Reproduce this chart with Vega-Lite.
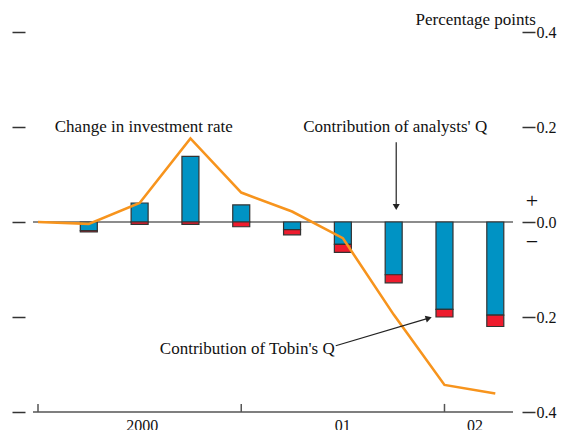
{
  "$schema": "https://vega.github.io/schema/vega-lite/v6.json",
  "width": 480,
  "height": 380,
  "autosize": {"type": "none"},
  "padding": {"left": 33, "top": 32, "right": 50, "bottom": 18},
  "background": "white",
  "config": {"view": {"stroke": null}, "font": "Liberation Serif"},
  "datasets": {
    "bars": [
      {"t": 1, "series": "Analysts' Q", "value": -0.018, "ord": 1},
      {"t": 1, "series": "Tobin's Q", "value": -0.003, "ord": 2},
      {"t": 2, "series": "Analysts' Q", "value": 0.04, "ord": 1},
      {"t": 2, "series": "Tobin's Q", "value": -0.005, "ord": 2},
      {"t": 3, "series": "Analysts' Q", "value": 0.138, "ord": 1},
      {"t": 3, "series": "Tobin's Q", "value": -0.005, "ord": 2},
      {"t": 4, "series": "Analysts' Q", "value": 0.036, "ord": 1},
      {"t": 4, "series": "Tobin's Q", "value": -0.01, "ord": 2},
      {"t": 5, "series": "Analysts' Q", "value": -0.016, "ord": 1},
      {"t": 5, "series": "Tobin's Q", "value": -0.011, "ord": 2},
      {"t": 6, "series": "Analysts' Q", "value": -0.047, "ord": 1},
      {"t": 6, "series": "Tobin's Q", "value": -0.017, "ord": 2},
      {"t": 7, "series": "Analysts' Q", "value": -0.111, "ord": 1},
      {"t": 7, "series": "Tobin's Q", "value": -0.017, "ord": 2},
      {"t": 8, "series": "Analysts' Q", "value": -0.184, "ord": 1},
      {"t": 8, "series": "Tobin's Q", "value": -0.016, "ord": 2},
      {"t": 9, "series": "Analysts' Q", "value": -0.196, "ord": 1},
      {"t": 9, "series": "Tobin's Q", "value": -0.024, "ord": 2}
    ],
    "line": [
      {"t": 0, "value": 0.0},
      {"t": 1, "value": -0.004},
      {"t": 2, "value": 0.04},
      {"t": 3, "value": 0.176},
      {"t": 4, "value": 0.062},
      {"t": 5, "value": 0.022},
      {"t": 6, "value": -0.034},
      {"t": 7, "value": -0.195},
      {"t": 8, "value": -0.343},
      {"t": 9, "value": -0.361}
    ]
  },
  "layer": [
    {
      "data": {"values": [{"v": 0}]},
      "mark": {"type": "rule", "color": "#666666", "strokeWidth": 1.5},
      "encoding": {
        "y": {"field": "v", "type": "quantitative",
              "scale": {"domain": [-0.4, 0.4], "nice": false, "zero": false},
              "axis": {"orient": "left", "values": [-0.4, -0.2, 0, 0.2, 0.4], "labels": false, "title": null,
                       "domain": false, "grid": false, "offset": 8, "tickSize": 13, "tickWidth": 1.5, "tickColor": "#333333"}}
      }
    },
    {
      "data": {"values": [{"v": -0.4}]},
      "mark": {"type": "rule", "color": "#555555", "strokeWidth": 1.5},
      "encoding": {
        "y": {"field": "v", "type": "quantitative", "scale": {"domain": [-0.4, 0.4], "nice": false, "zero": false}, "axis": null}
      }
    },
    {
      "data": {"values": [{"t": 0}, {"t": 4}, {"t": 8}]},
      "mark": {"type": "rule", "color": "#555555", "strokeWidth": 1.5},
      "encoding": {
        "x": {"field": "t", "type": "quantitative", "scale": {"domain": [0, 9.25], "nice": false, "zero": false}, "axis": null},
        "y": {"datum": -0.4, "type": "quantitative", "scale": {"domain": [-0.4, 0.4], "nice": false, "zero": false}, "axis": null},
        "y2": {"datum": -0.383}
      }
    },
    {
      "data": {"name": "bars"},
      "mark": {"type": "bar", "size": 17, "orient": "vertical", "stroke": "#333333", "strokeWidth": 1.2},
      "encoding": {
        "x": {"field": "t", "type": "quantitative",
              "scale": {"domain": [0, 9.25], "nice": false, "zero": false}, "axis": null},
        "y": {"field": "value", "type": "quantitative", "stack": "zero",
              "scale": {"domain": [-0.4, 0.4], "nice": false, "zero": false},
              "axis": {"orient": "right", "values": [-0.4, -0.2, 0, 0.2, 0.4], "title": null,
                       "labelExpr": "format(abs(datum.value), '.1f')",
                       "domain": false, "grid": false, "offset": 9, "tickSize": 13, "tickWidth": 1.5, "tickColor": "#333333",
                       "labelFont": "Liberation Serif", "labelFontSize": 16, "labelColor": "#111111", "labelPadding": 1}},
        "color": {"field": "series", "type": "nominal",
                  "scale": {"domain": ["Analysts' Q", "Tobin's Q"], "range": ["#0093C4", "#EE1C2E"]},
                  "legend": null},
        "order": {"field": "ord", "type": "quantitative"}
      }
    },
    {
      "data": {"name": "line"},
      "mark": {"type": "line", "color": "#F7941D", "strokeWidth": 2.6},
      "encoding": {
        "x": {"field": "t", "type": "quantitative", "scale": {"domain": [0, 9.25], "nice": false, "zero": false}, "axis": null},
        "y": {"field": "value", "type": "quantitative", "scale": {"domain": [-0.4, 0.4], "nice": false, "zero": false}, "axis": null}
      }
    },
    {
      "data": {"values": [
        {"x1": 7.05, "y1": 0.168, "x2": 7.05, "y2": 0.03},
        {"x1": 5.86, "y1": -0.2605, "x2": 7.69, "y2": -0.2025}
      ]},
      "mark": {"type": "rule", "color": "#222222", "strokeWidth": 1.2},
      "encoding": {
        "x": {"field": "x1", "type": "quantitative", "scale": {"domain": [0, 9.25], "nice": false, "zero": false}, "axis": null},
        "x2": {"field": "x2"},
        "y": {"field": "y1", "type": "quantitative", "scale": {"domain": [-0.4, 0.4], "nice": false, "zero": false}, "axis": null},
        "y2": {"field": "y2"}
      }
    },
    {
      "data": {"values": [{"x": 7.05, "y": 0.0315}]},
      "mark": {"type": "point", "shape": "triangle-down", "filled": true, "size": 50, "color": "#222222", "opacity": 1},
      "encoding": {
        "x": {"field": "x", "type": "quantitative", "scale": {"domain": [0, 9.25], "nice": false, "zero": false}, "axis": null},
        "y": {"field": "y", "type": "quantitative", "scale": {"domain": [-0.4, 0.4], "nice": false, "zero": false}, "axis": null}
      }
    },
    {
      "data": {"values": [{"x": 7.69, "y": -0.2025}]},
      "mark": {"type": "point", "shape": "triangle-up", "filled": true, "size": 50, "angle": 74, "color": "#222222", "opacity": 1},
      "encoding": {
        "x": {"field": "x", "type": "quantitative", "scale": {"domain": [0, 9.25], "nice": false, "zero": false}, "axis": null},
        "y": {"field": "y", "type": "quantitative", "scale": {"domain": [-0.4, 0.4], "nice": false, "zero": false}, "axis": null}
      }
    },
    {
      "data": {"values": [
        {"label": "Change in investment rate", "x": 0.33, "y": 0.2, "align": "left"},
        {"label": "Contribution of analysts' Q", "x": 7.03, "y": 0.2, "align": "center"}
      ]},
      "mark": {"type": "text", "font": "Liberation Serif", "fontSize": 17, "color": "#111111", "baseline": "middle", "align": {"expr": "datum.align"}},
      "encoding": {
        "x": {"field": "x", "type": "quantitative", "scale": {"domain": [0, 9.25], "nice": false, "zero": false}, "axis": null},
        "y": {"field": "y", "type": "quantitative", "scale": {"domain": [-0.4, 0.4], "nice": false, "zero": false}, "axis": null},
        "text": {"field": "label"}
      }
    },
    {
      "data": {"values": [{"label": "Contribution of Tobin's Q", "x": 5.84, "y": -0.267}]},
      "mark": {"type": "text", "font": "Liberation Serif", "fontSize": 17, "color": "#111111", "baseline": "middle", "align": "right"},
      "encoding": {
        "x": {"field": "x", "type": "quantitative", "scale": {"domain": [0, 9.25], "nice": false, "zero": false}, "axis": null},
        "y": {"field": "y", "type": "quantitative", "scale": {"domain": [-0.4, 0.4], "nice": false, "zero": false}, "axis": null},
        "text": {"field": "label"}
      }
    },
    {
      "data": {"values": [{"label": "Percentage points", "x": 9.8, "y": 0.426}]},
      "mark": {"type": "text", "font": "Liberation Serif", "fontSize": 17, "color": "#111111", "baseline": "middle", "align": "right", "clip": false},
      "encoding": {
        "x": {"field": "x", "type": "quantitative", "scale": {"domain": [0, 9.25], "nice": false, "zero": false}, "axis": null},
        "y": {"field": "y", "type": "quantitative", "scale": {"domain": [-0.4, 0.4], "nice": false, "zero": false}, "axis": null},
        "text": {"field": "label"}
      }
    },
    {
      "data": {"values": [{"label": "+", "x": 9.72, "y": 0.044}, {"label": "−", "x": 9.72, "y": -0.042}]},
      "mark": {"type": "text", "font": "Liberation Serif", "fontSize": 22, "color": "#111111", "baseline": "middle", "align": "center", "clip": false},
      "encoding": {
        "x": {"field": "x", "type": "quantitative", "scale": {"domain": [0, 9.25], "nice": false, "zero": false}, "axis": null},
        "y": {"field": "y", "type": "quantitative", "scale": {"domain": [-0.4, 0.4], "nice": false, "zero": false}, "axis": null},
        "text": {"field": "label"}
      }
    },
    {
      "data": {"values": [{"label": "2000", "x": 2.05}, {"label": "01", "x": 6.0}, {"label": "02", "x": 8.6}]},
      "mark": {"type": "text", "font": "Liberation Serif", "fontSize": 16, "color": "#111111", "baseline": "top", "align": "center", "clip": false, "dy": 6},
      "encoding": {
        "x": {"field": "x", "type": "quantitative", "scale": {"domain": [0, 9.25], "nice": false, "zero": false}, "axis": null},
        "y": {"datum": -0.4, "type": "quantitative", "scale": {"domain": [-0.4, 0.4], "nice": false, "zero": false}, "axis": null},
        "text": {"field": "label"}
      }
    }
  ]
}
